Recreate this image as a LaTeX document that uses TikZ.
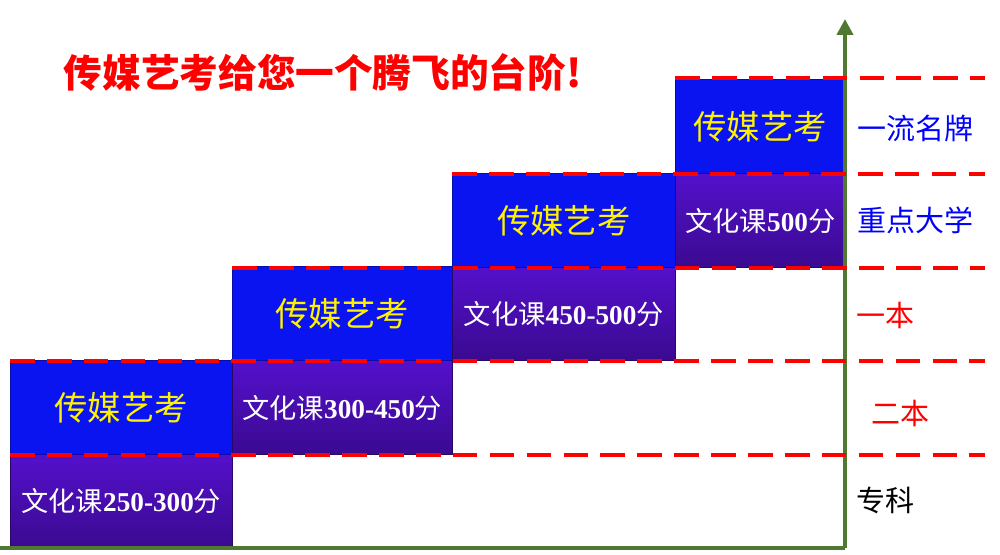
\documentclass[tikz,border=0pt]{standalone}
\usepackage{fontspec}
\setmainfont{Liberation Serif}
\newfontfamily\cjk{Noto Sans CJK SC}
\usetikzlibrary{positioning}
\usetikzlibrary{arrows.meta}
\definecolor{artBlue}{RGB}{10,20,240}
\definecolor{culTop}{RGB}{84,16,204}
\definecolor{culBot}{RGB}{58,10,144}
\definecolor{axisGreen}{RGB}{80,120,50}
\tikzset{
  artBox/.style  = {anchor=south west,fill=artBlue,draw=artBlue!70!black,minimum height=1.88cm,inner sep=0pt,text=yellow,font=\cjk\fontsize{19}{22}\selectfont},
  culBox/.style  = {anchor=south west,top color=culTop,bottom color=culBot,draw=culBot!70!black,minimum height=1.88cm,inner sep=0pt,text=white,font=\fontsize{15.5}{18}\selectfont},
  levelLine/.style = {red,line width=2pt,dash pattern=on 14pt off 7pt},
  levelText/.style = {font=\cjk\fontsize{16.5}{19}\selectfont}
}
\newcommand{\wenhua}[1]{{\cjk 文化课}\textbf{#1}{\cjk 分}}
\begin{document}
\begin{tikzpicture}
\useasboundingbox (0,0) rectangle (20,11.08);
% title
\node[anchor=west,text=red,font=\cjk\bfseries\fontsize{22}{26}\selectfont] (nTitle) at (1.15,9.64) {传媒艺考给您一个腾飞的台阶!};
% steps
\node[culBox,minimum width=4.44cm] (nCul1) at (0.2,0.12) {\wenhua{250-300}};
\node[artBox,minimum width=4.44cm] (nArt1) at (0.2,1.98) {传媒艺考};
\node[culBox,minimum width=4.4cm]  (nCul2) at (4.64,1.98) {\wenhua{300-450}};
\node[artBox,minimum width=4.4cm]  (nArt2) at (4.64,3.86) {传媒艺考};
\node[culBox,minimum width=4.46cm] (nCul3) at (9.04,3.86) {\wenhua{450-500}};
\node[artBox,minimum width=4.46cm] (nArt3) at (9.04,5.72) {传媒艺考};
\node[culBox,minimum width=3.4cm]  (nCul4) at (13.5,5.72) {\wenhua{500}};
\node[artBox,minimum width=3.4cm]  (nArt4) at (13.5,7.6) {传媒艺考};
% axes
\coordinate (cOrigin) at (16.9,0.12);
\coordinate (cTop) at (16.9,10.7);
\coordinate (cLeft) at (0,0.12);
\draw[axisGreen,line width=2.4pt,-{Triangle[length=9pt,width=9pt]}] (cOrigin) -- (cTop);
\draw[axisGreen,line width=2.4pt] (cLeft) -- (cOrigin);
% level lines
\coordinate (cL1) at (13.5,9.52);  \coordinate (cR1) at (19.7,9.52);
\coordinate (cL2) at (9.04,7.6);   \coordinate (cR2) at (19.7,7.6);
\coordinate (cL3) at (4.64,5.72);  \coordinate (cR3) at (19.7,5.72);
\coordinate (cL4) at (0.2,3.86);   \coordinate (cR4) at (19.7,3.86);
\coordinate (cL5) at (0.2,1.98);   \coordinate (cR5) at (19.7,1.98);
\foreach \i in {1,...,5} \draw[levelLine] (cL\i) -- (cR\i);
% level names
\node[levelText,text=blue]  (nTop)   at (18.3,8.52) {一流名牌};
\node[levelText,text=blue]  (nKey)   at (18.3,6.68) {重点大学};
\node[levelText,text=red]   (nFirst) at (17.7,4.78) {一本};
\node[levelText,text=red]   (nSec)   at (18.0,2.82) {二本};
\node[levelText,text=black] (nJunior) at (17.7,1.08) {专科};
\end{tikzpicture}
\end{document}
